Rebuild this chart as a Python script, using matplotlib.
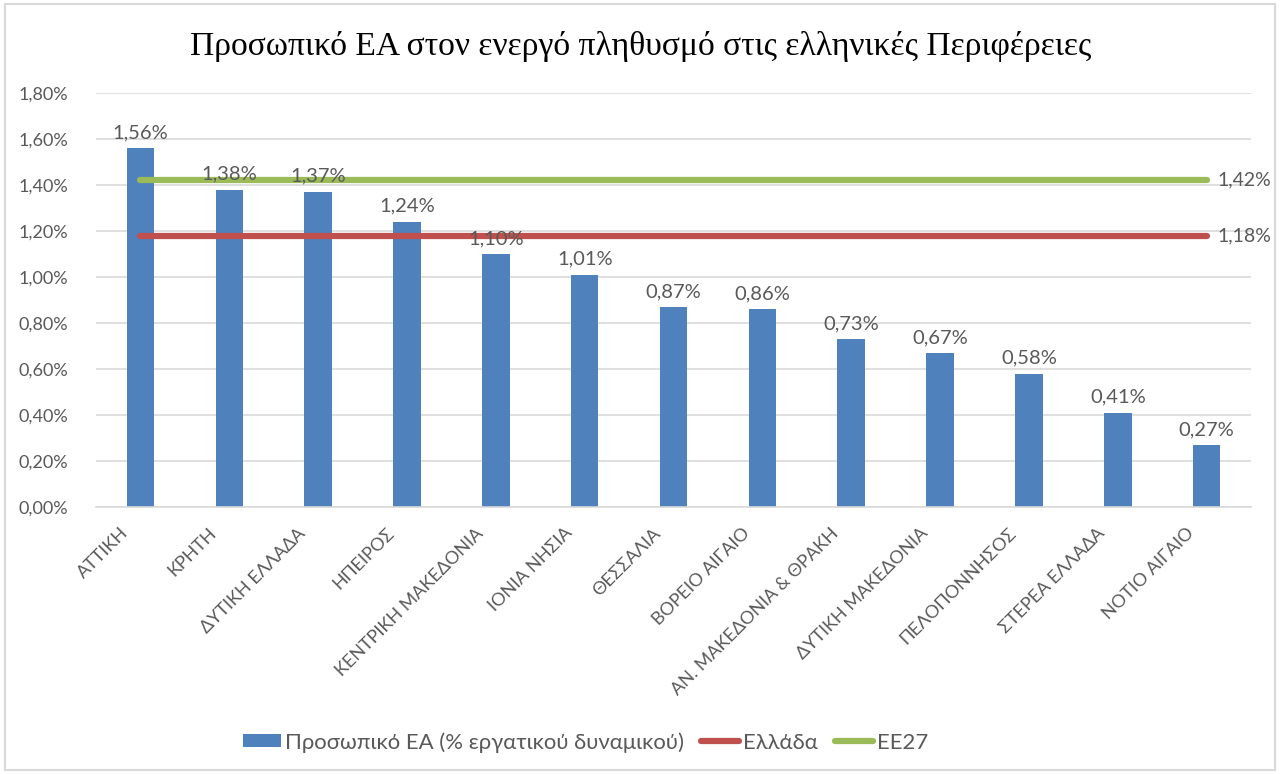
import numpy as np
import matplotlib.pyplot as plt
from matplotlib.patches import Rectangle

plt.rcParams['font.family'] = ['Lato', 'DejaVu Sans']

# data
regions = ['ΑΤΤΙΚΗ', 'ΚΡΗΤΗ', 'ΔΥΤΙΚΗ ΕΛΛΑΔΑ', 'ΗΠΕΙΡΟΣ', 'ΚΕΝΤΡΙΚΗ ΜΑΚΕΔΟΝΙΑ',
           'ΙΟΝΙΑ ΝΗΣΙΑ', 'ΘΕΣΣΑΛΙΑ', 'ΒΟΡΕΙΟ ΑΙΓΑΙΟ', 'ΑΝ. ΜΑΚΕΔΟΝΙΑ & ΘΡΑΚΗ',
           'ΔΥΤΙΚΗ ΜΑΚΕΔΟΝΙΑ', 'ΠΕΛΟΠΟΝΝΗΣΟΣ', 'ΣΤΕΡΕΑ ΕΛΛΑΔΑ', 'ΝΟΤΙΟ ΑΙΓΑΙΟ']
staff = [1.56, 1.38, 1.37, 1.24, 1.10, 1.01, 0.87, 0.86, 0.73, 0.67, 0.58, 0.41, 0.27]
greece = [1.18] * len(regions)
eu27 = [1.42] * len(regions)
yticks = [0.0, 0.2, 0.4, 0.6, 0.8, 1.0, 1.2, 1.4, 1.6, 1.8]

grey = '#595959'
blue = '#4F81BD'
red = '#C0504D'
green = '#9BBB59'
fs = 13

def pct(v):
    return f'{v:.2f}%'.replace('.', ',')

fig = plt.figure(figsize=(12.81, 7.74), dpi=100)
fig.patches.append(Rectangle((0.004, 0.005), 0.991, 0.99, transform=fig.transFigure,
                             fill=False, edgecolor='#D9D9D9', linewidth=1.5))
ax = fig.add_axes([0.075, 0.345, 0.9016, 0.535])

x = np.arange(len(regions))
b = ax.bar(x, staff, width=0.31, color=blue, label='Προσωπικό ΕΑ (% εργατικού δυναμικού)', zorder=2)
l1, = ax.plot(x, greece, color=red, lw=4.5, solid_capstyle='round', label='Ελλάδα', zorder=3)
l2, = ax.plot(x, eu27, color=green, lw=4.5, solid_capstyle='round', label='ΕΕ27', zorder=3)

for xi, v in zip(x, staff):
    ax.annotate(pct(v), (xi, v), xytext=(0, 5), textcoords='offset points',
                ha='center', va='bottom', color=grey, fontsize=14.5)
ax.annotate(pct(greece[-1]), (x[-1], greece[-1]), xytext=(8, 0), textcoords='offset points',
            ha='left', va='center', color=grey, fontsize=14)
ax.annotate(pct(eu27[-1]), (x[-1], eu27[-1]), xytext=(8, 0), textcoords='offset points',
            ha='left', va='center', color=grey, fontsize=14)

ax.set_xlim(-0.5, len(regions) - 0.5)
ax.set_ylim(0, 1.8)
ax.set_yticks(yticks)
ax.set_yticklabels([pct(t) for t in yticks], color=grey, fontsize=fs)
ax.set_xticks(x)
ax.set_xticklabels([''] * len(regions))
# rotated category labels, ending a bit left of the category centre like Excel does
for xi, name in zip(x, regions):
    ax.annotate(name, (xi, 0), xycoords=('data', 'axes fraction'), xytext=(-15, -13),
                textcoords='offset points', rotation=45, ha='right', va='top',
                rotation_mode='anchor', color=grey, fontsize=fs)
ax.tick_params(axis='both', length=0)
ax.tick_params(axis='y', pad=20)
ax.grid(axis='y', color='#D9D9D9', lw=1.2, zorder=0)
for s in ['top', 'right', 'left']:
    ax.spines[s].set_visible(False)
ax.spines['bottom'].set_color('#D9D9D9')
ax.spines['bottom'].set_linewidth(1.2)

fig.text(0.5, 0.94, 'Προσωπικό ΕΑ στον ενεργό πληθυσμό στις ελληνικές Περιφέρειες',
         ha='center', va='center', fontsize=24.2, family=['Liberation Serif', 'DejaVu Serif'])

fig.legend(handles=[b, l1, l2], loc='center', bbox_to_anchor=(0.457, 0.041), ncol=3,
           frameon=False, fontsize=15.9, labelcolor=grey, handlelength=1.72,
           handleheight=0.54, handletextpad=0.18, columnspacing=0.78)

plt.savefig('out.png', dpi=100)
